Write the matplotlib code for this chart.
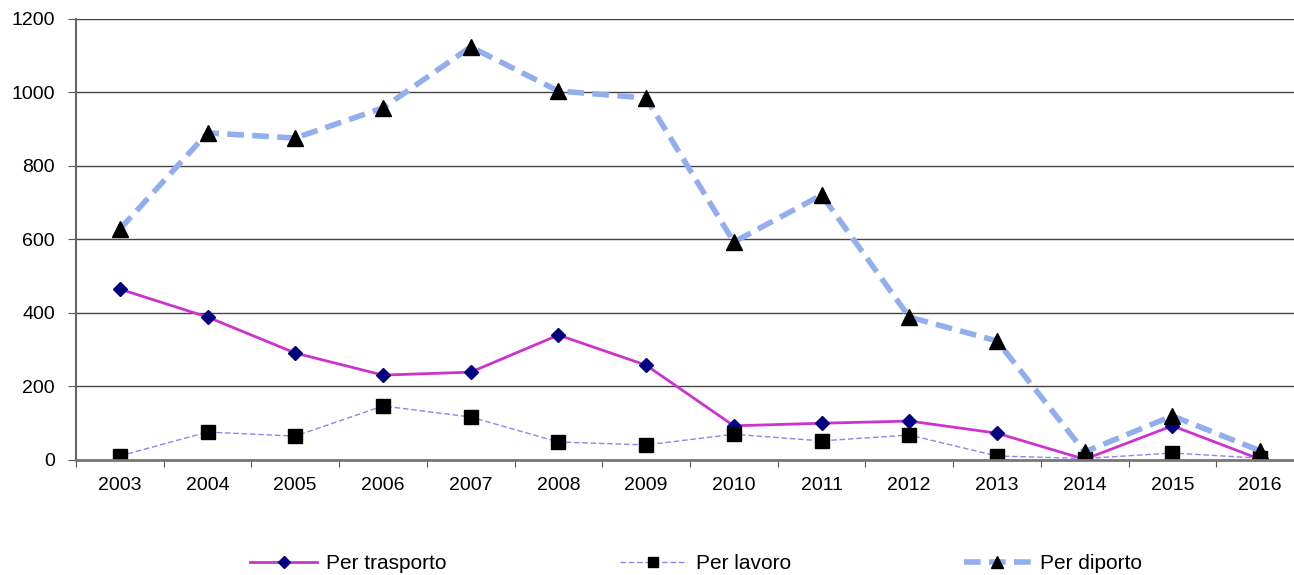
import matplotlib
matplotlib.use("Agg")
import matplotlib.pyplot as plt
import numpy as np

plt.rcParams['font.family'] = ['Liberation Sans', 'DejaVu Sans']

years = ["2003", "2004", "2005", "2006", "2007", "2008", "2009",
         "2010", "2011", "2012", "2013", "2014", "2015", "2016"]
trasporto = [465, 389, 291, 231, 239, 340, 258, 93, 100, 106, 73, 2, 93, 2]
lavoro = [11, 76, 65, 147, 117, 49, 41, 70, 52, 68, 11, 4, 19, 5]
diporto = [628, 890, 876, 958, 1124, 1004, 985, 593, 721, 389, 324, 22, 120, 25]

fig = plt.figure(figsize=(12.94, 5.75), dpi=100)
ax = fig.add_axes([0.0587, 0.2, 0.949, 0.767])

x = np.arange(len(years)) + 0.5

ax.plot(x, trasporto, color="#CC33CC", lw=2, marker="D", markersize=7.5,
        markerfacecolor="#000080", markeredgecolor="#000080", label="Per trasporto")
ax.plot(x, lavoro, color="#8888EE", lw=1, ls=(0, (4, 2)), marker="s", markersize=10.5,
        markerfacecolor="black", markeredgecolor="black", label="Per lavoro")
ax.plot(x, diporto, color="#93AEEE", lw=4, ls=(0, (3, 1.5)), marker="^", markersize=11,
        markerfacecolor="black", markeredgecolor="black", label="Per diporto")

ax.set_xlim(0, len(years))
ax.set_ylim(0, 1200)
ax.set_yticks(range(0, 1201, 200))
ax.set_xticks(np.arange(len(years) + 1))
ax.set_xticklabels([])
ax.set_xticks(x, minor=True)
ax.set_xticklabels(years, minor=True)
ax.tick_params(axis="x", which="minor", length=0, labelsize=14, pad=12)
ax.tick_params(axis="x", which="major", length=5, color="#555555")
ax.tick_params(axis="y", length=6, color="#555555", labelsize=14, pad=9)

for v in range(200, 1201, 200):
    ax.axhline(v, color="#444444", lw=1, zorder=0)

for s in ["top", "right"]:
    ax.spines[s].set_visible(False)
ax.spines["left"].set_color("#666666")
ax.spines["left"].set_linewidth(1.5)
ax.spines["bottom"].set_color("#777777")
ax.spines["bottom"].set_linewidth(2)

leg = fig.legend(loc="center", bbox_to_anchor=(0.538, 0.02), ncol=3, frameon=False,
                 fontsize=15, handlelength=3.2, columnspacing=8.3, handletextpad=0.45,
                 markerscale=0.75)

fig.savefig("out.png", dpi=100)
